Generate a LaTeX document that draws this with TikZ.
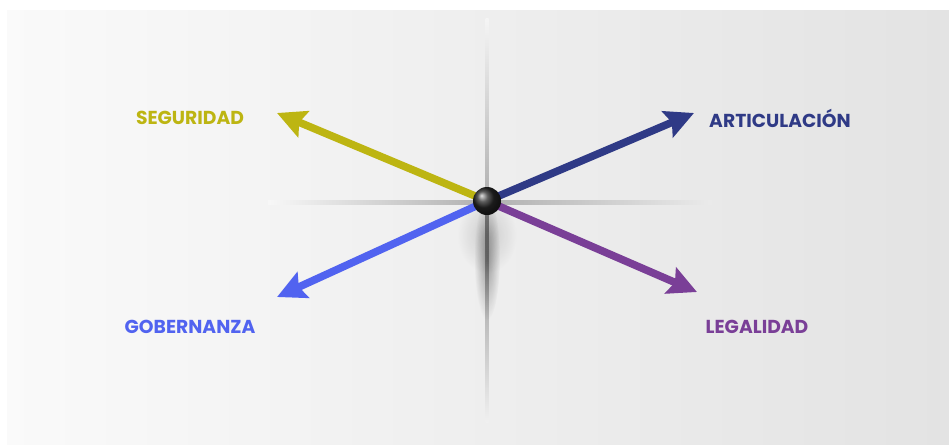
\documentclass[tikz,border=0pt]{standalone}
\usepackage{fontspec}
\setmainfont{Poppins}
\usetikzlibrary{arrows.meta,fadings}
\definecolor{olive}{HTML}{BDB512}
\definecolor{navy}{HTML}{2F3A86}
\definecolor{azure}{HTML}{5163F0}
\definecolor{grape}{HTML}{7A3F97}
\definecolor{axis}{HTML}{B0B0B0}

\tikzfading[name=blur,inner color=transparent!0,outer color=transparent!100]

\tikzset{
  label/.style={font=\fontsize{16}{19}\selectfont\bfseries},
  vane/.style={line width=6.5pt,-{Stealth[length=0.86cm,width=0.84cm,inset=0.14cm]}},
  knob/.style={circle,minimum size=0.84cm,inner sep=0pt,ball color=black!85},
}

\begin{document}
\begin{tikzpicture}[x=0.03cm,y=-0.03cm,line cap=butt]
  \useasboundingbox (0,0) rectangle (949,444);
  % Backdrop.
  \fill[white] (0,0) rectangle (949,444);
  \shade[left color=black!2,right color=black!11] (7,10) rectangle (949,444);

  % Axes, fading towards the ends.
  \shade[left color=black!3,right color=axis] (268,200) rectangle (487,204);
  \shade[left color=axis,right color=black!8] (487,200) rectangle (712,204);
  \shade[top color=black!4,bottom color=axis] (485.5,18) rectangle (488.5,200);
  \shade[top color=black!50,bottom color=black!6] (485.5,200) rectangle (488.5,422);
  % Soft shadow below the hub.
  \fill[black,opacity=.35,path fading=blur] (487,258) ellipse (13 and 62);
  \fill[black,opacity=.15,path fading=blur] (487,235) ellipse (30 and 38);

  % Labels and arrow tips.
  \node[label,text=olive] (seg) at (190,118) {SEGURIDAD};
  \node[label,text=navy] (art) at (780,118) {ARTICULACIÓN};
  \node[label,text=azure] (gob) at (190,327) {GOBERNANZA};
  \node[label,text=grape] (leg) at (757,327) {LEGALIDAD};
  \coordinate (hub) at (487,201);
  \coordinate (segtip) at (277,113);
  \coordinate (arttip) at (694,113);
  \coordinate (gobtip) at (277,297);
  \coordinate (legtip) at (697,292);

  % Vanes.
  \draw[vane,olive] (hub) -- (segtip);
  \draw[vane,navy] (hub) -- (arttip);
  \draw[vane,azure] (hub) -- (gobtip);
  \draw[vane,grape] (hub) -- (legtip);
  \node[knob] (ball) at (hub) {};
\end{tikzpicture}
\end{document}
